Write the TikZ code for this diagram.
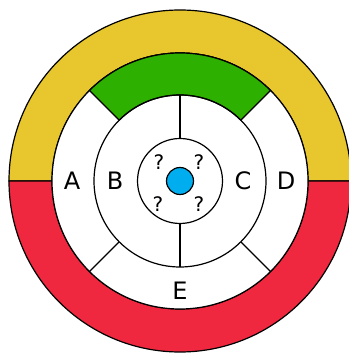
\documentclass[tikz,border=0pt]{standalone}
\usepackage{fontspec}
\setmainfont{DejaVu Sans}
\definecolor{ringyellow}{HTML}{E8C72E}
\definecolor{ringred}{HTML}{EF2840}
\definecolor{bandgreen}{HTML}{2DB000}
\definecolor{dotblue}{HTML}{00AEEF}
\tikzset{
  edge/.style={line width=1.2pt},
  spoke/.style={line width=1.6pt},
  letter/.style={font=\fontsize{24}{24}\selectfont},
  query/.style={font=\fontsize{20}{20}\selectfont}
}
\begin{document}
\begin{tikzpicture}[x=1pt,y=1pt]
  \useasboundingbox (0,0) rectangle (348,353);
  \begin{scope}[shift={(180,172)}]
  % outer ring halves
  \draw[edge, fill=ringyellow] (0:171) arc[start angle=0,end angle=180,radius=171]
    -- (180:128) arc[start angle=180,end angle=0,radius=128] -- cycle;
  \draw[edge, fill=ringred] (180:171) arc[start angle=180,end angle=360,radius=171]
    -- (0:128) arc[start angle=360,end angle=180,radius=128] -- cycle;
  \draw[edge, fill=white] (0,0) circle (128);
  % green band on top
  \draw[edge, fill=bandgreen] (45:128) arc[start angle=45,end angle=135,radius=128]
    -- (135:86) arc[start angle=135,end angle=45,radius=86] -- cycle;
  \draw[edge] (225:86) -- (225:128);
  \draw[edge] (315:86) -- (315:128);
  % middle ring
  \draw[edge] (0,0) circle (86);
  \draw[spoke] (90:42.5) -- (90:86);
  \draw[spoke] (270:42.5) -- (270:86);
  % inner circle and dot
  \draw[edge] (0,0) circle (42.5);
  \draw[edge, fill=dotblue] (0,0) circle (13.5);
  \node[letter] (labA) at (-108,0) {A};
  \node[letter] (labB) at (-65,0) {B};
  \node[letter] (labC) at (63,0) {C};
  \node[letter] (labD) at (106,0) {D};
  \node[letter] (labE) at (0,-110) {E};
  \node[query] (q1) at (-21,19) {?};
  \node[query] (q2) at (19,19) {?};
  \node[query] (q3) at (-22,-23) {?};
  \node[query] (q4) at (19,-23) {?};
  \end{scope}
\end{tikzpicture}
\end{document}
